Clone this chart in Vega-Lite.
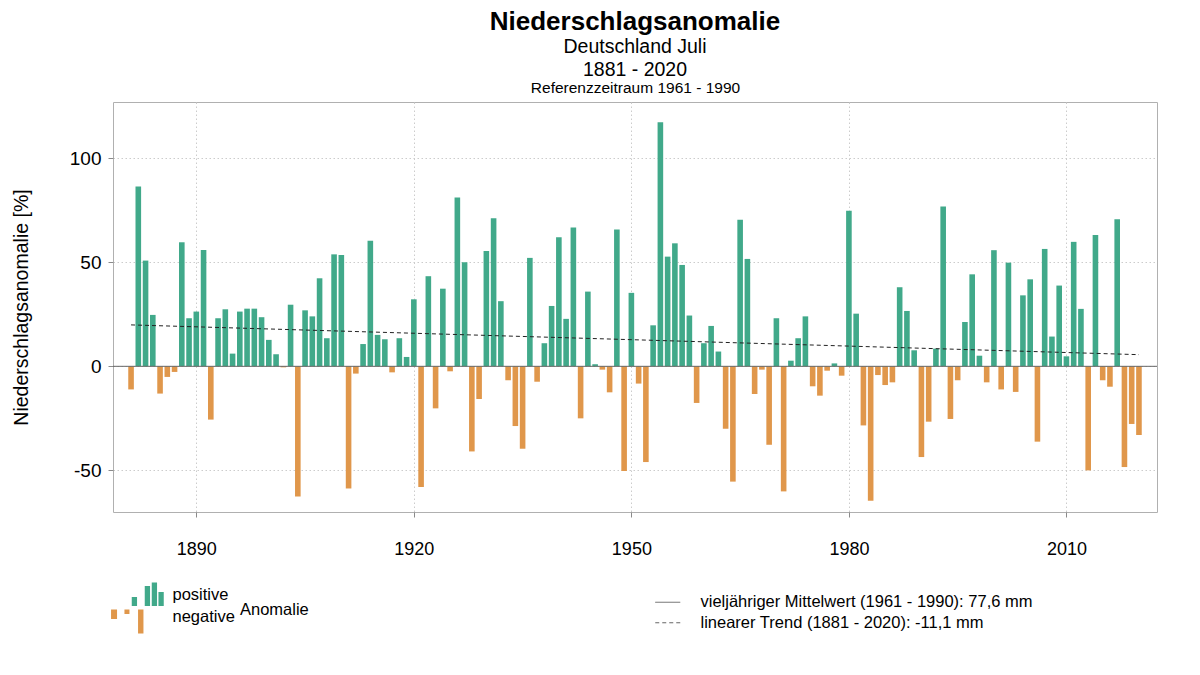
{
  "$schema": "https://vega.github.io/schema/vega-lite/v6.json",
  "autosize": {"type": "none"},
  "padding": {"left": 113, "top": 102, "right": 43, "bottom": 163},
  "width": 1044,
  "height": 410,
  "background": "white",
  "config": {
    "font": "Liberation Sans",
    "view": {"stroke": "#b0b0b0", "strokeWidth": 1},
    "axis": {
      "labelFont": "Liberation Sans",
      "labelColor": "#000",
      "ticks": true,
      "tickSize": 5,
      "tickColor": "#8a8a8a",
      "domain": false,
      "gridColor": "#cccccc",
      "gridDash": [1.5, 2.5],
      "gridWidth": 1,
      "titleFont": "Liberation Sans",
      "titleFontWeight": "normal",
      "titleColor": "#000"
    },
    "legend": {
      "labelFont": "Liberation Sans",
      "titleFont": "Liberation Sans",
      "labelColor": "#000",
      "titleColor": "#000",
      "padding": 0
    }
  },
  "title": {
    "text": "Niederschlagsanomalie",
    "subtitle": ["Deutschland Juli", "1881 - 2020"],
    "anchor": "middle",
    "frame": "group",
    "fontSize": 26,
    "fontWeight": "bold",
    "color": "#000",
    "subtitleFontSize": 19.5,
    "subtitleColor": "#000",
    "subtitleLineHeight": 23,
    "subtitlePadding": 3,
    "offset": 1
  },
  "datasets": {
    "anom": [
      {"year":1881,"value":-11.1},{"year":1882,"value":86.4},{"year":1883,"value":50.8},{"year":1884,"value":24.7},{"year":1885,"value":-13.1},
      {"year":1886,"value":-5.1},{"year":1887,"value":-2.7},{"year":1888,"value":59.6},{"year":1889,"value":23.1},{"year":1890,"value":26.3},
      {"year":1891,"value":55.9},{"year":1892,"value":-25.6},{"year":1893,"value":23.1},{"year":1894,"value":27.4},{"year":1895,"value":6.1},
      {"year":1896,"value":26.3},{"year":1897,"value":27.7},{"year":1898,"value":27.7},{"year":1899,"value":23.6},{"year":1900,"value":12.7},
      {"year":1901,"value":5.8},{"year":1902,"value":-0.5},{"year":1903,"value":29.6},{"year":1904,"value":-62.5},{"year":1905,"value":26.9},
      {"year":1906,"value":24.0},{"year":1907,"value":42.3},{"year":1908,"value":13.5},{"year":1909,"value":53.8},{"year":1910,"value":53.5},
      {"year":1911,"value":-58.7},{"year":1912,"value":-3.5},{"year":1913,"value":10.7},{"year":1914,"value":60.3},{"year":1915,"value":15.1},
      {"year":1916,"value":13.0},{"year":1917,"value":-2.9},{"year":1918,"value":13.5},{"year":1919,"value":4.5},{"year":1920,"value":32.2},
      {"year":1921,"value":-58.0},{"year":1922,"value":43.3},{"year":1923,"value":-20.2},{"year":1924,"value":37.3},{"year":1925,"value":-2.4},
      {"year":1926,"value":81.1},{"year":1927,"value":50.0},{"year":1928,"value":-40.9},{"year":1929,"value":-15.7},{"year":1930,"value":55.4},
      {"year":1931,"value":71.2},{"year":1932,"value":31.3},{"year":1933,"value":-6.7},{"year":1934,"value":-28.7},{"year":1935,"value":-39.6},
      {"year":1936,"value":52.1},{"year":1937,"value":-7.4},{"year":1938,"value":11.1},{"year":1939,"value":29.0},{"year":1940,"value":62.0},
      {"year":1941,"value":22.8},{"year":1942,"value":66.7},{"year":1943,"value":-25.0},{"year":1944,"value":35.9},{"year":1945,"value":1.0},
      {"year":1946,"value":-1.6},{"year":1947,"value":-12.5},{"year":1948,"value":65.7},{"year":1949,"value":-50.3},{"year":1950,"value":35.3},
      {"year":1951,"value":-8.3},{"year":1952,"value":-46.0},{"year":1953,"value":19.7},{"year":1954,"value":117.3},{"year":1955,"value":52.7},
      {"year":1956,"value":59.1},{"year":1957,"value":48.7},{"year":1958,"value":24.4},{"year":1959,"value":-17.6},{"year":1960,"value":11.1},
      {"year":1961,"value":19.4},{"year":1962,"value":7.1},{"year":1963,"value":-30.0},{"year":1964,"value":-55.4},{"year":1965,"value":70.4},
      {"year":1966,"value":51.6},{"year":1967,"value":-13.3},{"year":1968,"value":-1.6},{"year":1969,"value":-37.7},{"year":1970,"value":23.1},
      {"year":1971,"value":-60.1},{"year":1972,"value":2.7},{"year":1973,"value":13.5},{"year":1974,"value":24.0},{"year":1975,"value":-9.6},
      {"year":1976,"value":-14.1},{"year":1977,"value":-2.1},{"year":1978,"value":1.4},{"year":1979,"value":-4.5},{"year":1980,"value":74.7},
      {"year":1981,"value":25.3},{"year":1982,"value":-28.4},{"year":1983,"value":-64.6},{"year":1984,"value":-4.2},{"year":1985,"value":-9.0},
      {"year":1986,"value":-7.7},{"year":1987,"value":38.0},{"year":1988,"value":26.6},{"year":1989,"value":7.7},{"year":1990,"value":-43.6},
      {"year":1991,"value":-26.6},{"year":1992,"value":8.5},{"year":1993,"value":76.8},{"year":1994,"value":-25.3},{"year":1995,"value":-6.7},
      {"year":1996,"value":21.3},{"year":1997,"value":44.2},{"year":1998,"value":5.1},{"year":1999,"value":-7.7},{"year":2000,"value":55.8},
      {"year":2001,"value":-11.1},{"year":2002,"value":49.8},{"year":2003,"value":-12.3},{"year":2004,"value":34.1},{"year":2005,"value":41.8},
      {"year":2006,"value":-36.2},{"year":2007,"value":56.4},{"year":2008,"value":14.3},{"year":2009,"value":38.8},{"year":2010,"value":4.8},
      {"year":2011,"value":59.8},{"year":2012,"value":27.6},{"year":2013,"value":-50.0},{"year":2014,"value":63.1},{"year":2015,"value":-6.7},
      {"year":2016,"value":-9.8},{"year":2017,"value":70.7},{"year":2018,"value":-48.4},{"year":2019,"value":-27.7},{"year":2020,"value":-33.0}
    ],
    "mean": [
      {"name": "vieljähriger Mittelwert (1961 - 1990): 77,6 mm", "value": 0}
    ],
    "trend": [
      {"name": "linearer Trend (1881 - 2020): -11,1 mm", "year": 1881, "value": 19.9},
      {"name": "linearer Trend (1881 - 2020): -11,1 mm", "year": 2020, "value": 5.6}
    ]
  },
  "layer": [
    {
      "data": {"name": "anom"},
      "transform": [{"calculate": "datum.value >= 0 ? 'positive' : 'negative'", "as": "sign"}],
      "mark": {"type": "bar", "size": 5.6},
      "encoding": {
        "x": {
          "field": "year", "type": "quantitative",
          "scale": {"domain": [1879.2, 2021.8], "nice": false, "zero": false},
          "axis": {"orient": "bottom", "values": [1890, 1920, 1950, 1980, 2010], "format": "d", "title": null, "grid": true, "labelFontSize": 18, "labelPadding": 23}
        },
        "y": {
          "field": "value", "type": "quantitative",
          "scale": {"domain": [-70, 127], "nice": false},
          "axis": {"values": [-50, 0, 50, 100], "labelExpr": "replace(datum.label, '−', '-')", "title": "Niederschlagsanomalie [%]", "titleFontSize": 19.5, "titlePadding": 38, "labelFontSize": 19, "labelPadding": 7, "grid": true}
        },
        "color": {
          "field": "sign", "type": "nominal",
          "scale": {"domain": ["positive", "negative"], "range": ["#41a98a", "#e0974b"]},
          "legend": {
            "title": "Anomalie",
            "orient": "none",
            "legendX": 16,
            "legendY": 485,
            "titleOrient": "right",
            "titleAnchor": "middle",
            "titleFontSize": 16.5,
            "titleFontWeight": "normal",
            "labelFontSize": 16.5,
            "symbolSize": 100,
            "labelOffset": 27,
            "rowPadding": 2.5,
            "encode": {
              "symbols": {
                "update": {
                  "shape": [
                    {"test": "datum.value === 'positive'", "value": "M-1.1,0.34L-0.04,0.34L-0.04,2.14L-1.1,2.14Z M1.5,-1.86L2.56,-1.86L2.56,2.14L1.5,2.14Z M2.9,-2.54L3.96,-2.54L3.96,2.14L2.9,2.14Z M4.24,-0.66L5.3,-0.66L5.3,2.14L4.24,2.14Z"},
                    {"value": "M-5.24,-1.46L-4.04,-1.46L-4.04,0.46L-5.24,0.46Z M-2.56,-1.46L-1.56,-1.46L-1.56,-0.54L-2.56,-0.54Z M0.16,-1.46L1.24,-1.46L1.24,3.34L0.16,3.34Z"}
                  ],
                  "strokeWidth": {"value": 0}
                }
              }
            }
          }
        }
      }
    },
    {
      "data": {"name": "mean"},
      "mark": {"type": "rule", "color": "#666666", "strokeWidth": 1},
      "encoding": {
        "y": {"field": "value", "type": "quantitative"},
        "strokeDash": {
          "field": "name", "type": "nominal",
          "scale": {
            "domain": ["vieljähriger Mittelwert (1961 - 1990): 77,6 mm", "linearer Trend (1881 - 2020): -11,1 mm"],
            "range": [[1, 0], [4, 3]]
          },
          "legend": {
            "title": null,
            "orient": "none",
            "legendX": 546.5,
            "legendY": 492,
            "labelFontSize": 16.5,
            "labelLimit": 600,
            "symbolType": "M-2.5,0L2.5,0",
            "symbolSize": 100,
            "symbolStrokeWidth": 1,
            "symbolFillColor": "transparent",
            "labelOffset": 24.5,
            "rowPadding": 3.5,
            "encode": {
              "symbols": {
                "update": {
                  "stroke": [
                    {"test": "indexof(datum.value, 'Mittelwert') >= 0", "value": "#999999"},
                    {"value": "#333333"}
                  ],
                  "fill": {"value": "transparent"}
                }
              }
            }
          }
        }
      }
    },
    {
      "data": {"name": "trend"},
      "mark": {"type": "line", "color": "#222222", "strokeWidth": 1},
      "encoding": {
        "x": {
          "field": "year", "type": "quantitative",
          "axis": {"orient": "top", "labels": false, "ticks": false, "grid": false, "title": "Referenzzeitraum 1961 - 1990", "titleFontSize": 15.5, "titlePadding": 7}
        },
        "y": {"field": "value", "type": "quantitative"},
        "strokeDash": {"field": "name", "type": "nominal"}
      }
    }
  ],
  "resolve": {"axis": {"x": "independent"}}
}
